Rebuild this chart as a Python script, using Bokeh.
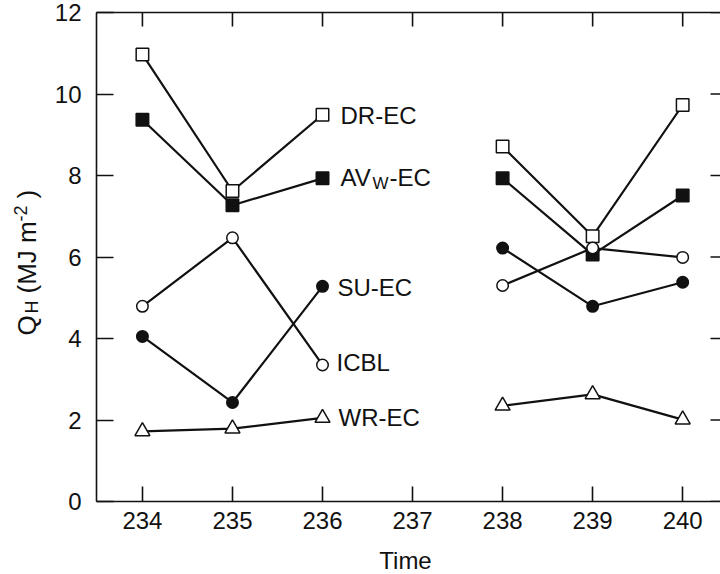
import math
from bokeh.plotting import figure
from bokeh.layouts import row, column
from bokeh.models import Range1d, LinearAxis, FixedTicker, Label
from bokeh.embed import file_html
from bokeh.resources import INLINE

# ---- data ----
days = [234, 235, 236, 238, 239, 240]
dr_ec = [10.97, 7.62, 9.49, 8.71, 6.51, 9.73]
av_w_ec = [9.37, 7.27, 7.93, 7.93, 6.06, 7.51]
su_ec = [4.05, 2.43, 5.28, 6.22, 4.79, 5.38]
icbl = [4.79, 6.47, 3.35, 5.30, 6.22, 5.99]
wr_ec = [1.72, 1.79, 2.05, 2.35, 2.63, 2.01]
x_ticks = [234, 235, 236, 237, 238, 239, 240]
y_ticks = [0, 2, 4, 6, 8, 10, 12]

FONT = "Liberation Sans"
INK = "#111111"
X0, X1 = 233.49, 240.42
Y0, Y1 = 0, 12
LEFT_W = 50            # strip holding the y-axis title
MAIN_H = 540           # main figure height (x-axis title strip below)
FL, FR, FT, FB = 96, 720, 12, 501   # frame edges in page pixels

p = figure(width=720 - LEFT_W, height=MAIN_H, output_backend="svg",
           toolbar_location=None,
           x_range=Range1d(X0, X1), y_range=Range1d(Y0, Y1),
           x_axis_location=None, y_axis_location=None,
           min_border_left=FL - LEFT_W, min_border_right=0,
           min_border_top=FT, min_border_bottom=MAIN_H - FB)
p.outline_line_color = None
p.grid.visible = False
p.background_fill_color = "white"
p.border_fill_color = "white"


def style_axis(ax, tick_in):
    ax.axis_line_color = INK
    ax.axis_line_width = 1.6
    ax.major_tick_line_color = INK
    ax.major_tick_line_width = 1.6
    ax.major_tick_in = tick_in
    ax.major_tick_out = 0
    ax.minor_tick_line_color = None
    ax.major_label_text_font = FONT
    ax.major_label_text_color = INK
    ax.major_label_text_font_size = "24px"


bottom = LinearAxis(ticker=FixedTicker(ticks=x_ticks))
style_axis(bottom, 15)
bottom.major_label_standoff = 10
p.add_layout(bottom, "below")

left = LinearAxis(ticker=FixedTicker(ticks=y_ticks))
style_axis(left, 17)
left.major_label_standoff = 15
p.add_layout(left, "left")

# top frame line (its ticks are drawn as inward dashes below)
top = LinearAxis(ticker=FixedTicker(ticks=[]))
style_axis(top, 0)
p.add_layout(top, "above")

# inward ticks on the top edge and on the (cropped) right edge
p.scatter(x_ticks, [Y1] * len(x_ticks), marker="dash", size=28,
          angle=math.pi / 2, line_color=INK, line_width=1.6)
p.scatter([X1] * len(y_ticks), y_ticks, marker="dash", size=20,
          line_color=INK, line_width=1.6)


def xd(sx):
    return X0 + (sx - FL) * (X1 - X0) / (FR - FL)


def yd(sy):
    return Y0 + (FB - sy) * (Y1 - Y0) / (FB - FT)


# ---- lines (two segments, no data at 237) ----
series = [dr_ec, av_w_ec, su_ec, icbl, wr_ec]
for s in series:
    p.line(days[:3], s[:3], line_color=INK, line_width=2.2)
    p.line(days[3:], s[3:], line_color=INK, line_width=2.2)

# ---- markers ----
p.scatter(days, dr_ec, marker="square", size=12.5, fill_color="white",
          line_color=INK, line_width=1.5)
p.scatter(days, av_w_ec, marker="square", size=12.5, fill_color=INK,
          line_color=INK, line_width=1.5)
p.scatter(days, wr_ec, marker="triangle", size=15, fill_color="white",
          line_color=INK, line_width=1.5)
p.scatter(days, su_ec, marker="circle", size=11.5, fill_color=INK,
          line_color=INK, line_width=1.5)
p.scatter(days, icbl, marker="circle", size=11.5, fill_color="white",
          line_color=INK, line_width=1.5)


def add_text(fig, x, y, text, size, angle=0.0, align="left"):
    fig.add_layout(Label(x=x, y=y, text=text, text_font=FONT,
                         text_font_size=f"{size}px", text_color=INK,
                         text_align=align, text_baseline="middle",
                         angle=angle, angle_units="rad"))


# ---- series labels (page pixel positions -> data) ----
add_text(p, xd(340), yd(114.5), "DR-EC", 24)
add_text(p, xd(340), yd(176.5), "AV", 24)
add_text(p, xd(372), yd(183.0), "W", 17)
add_text(p, xd(389), yd(176.5), "-EC", 24)
add_text(p, xd(337), yd(286.5), "SU-EC", 24)
add_text(p, xd(336), yd(361.5), "ICBL", 24)
add_text(p, xd(338), yd(416.5), "WR-EC", 24)


def blank_fig(w, h, xr, yr, **kw):
    f = figure(width=w, height=h, output_backend="svg", toolbar_location=None,
               x_range=xr, y_range=yr, x_axis_location=None,
               y_axis_location=None, **kw)
    f.outline_line_color = None
    f.grid.visible = False
    f.background_fill_color = "white"
    f.border_fill_color = "white"
    return f


# ---- y-axis title strip: Q_H (MJ m^-2), rotated; data units = page pixels ----
yfig = blank_fig(LEFT_W, MAIN_H, Range1d(0, LEFT_W), Range1d(FB, FT),
                 min_border_left=0, min_border_right=0,
                 min_border_top=FT, min_border_bottom=MAIN_H - FB)
r = math.pi / 2
add_text(yfig, 26, 335, "Q", 26, r)
add_text(yfig, 31, 313, "H", 18, r)
add_text(yfig, 26, 293, "(MJ m", 26, r)
add_text(yfig, 20, 221, "-2", 18, r)
add_text(yfig, 26, 198, ")", 26, r)

# ---- x-axis title strip ----
tfig = blank_fig(720, 574 - MAIN_H, Range1d(0, 720),
                 Range1d(574 - MAIN_H, 0), min_border=0)
add_text(tfig, 405, 20, "Time", 24, 0.0, "center")

layout = column(row(yfig, p, spacing=0), tfig, spacing=0)
open("out.html", "w").write(file_html(layout, INLINE))
